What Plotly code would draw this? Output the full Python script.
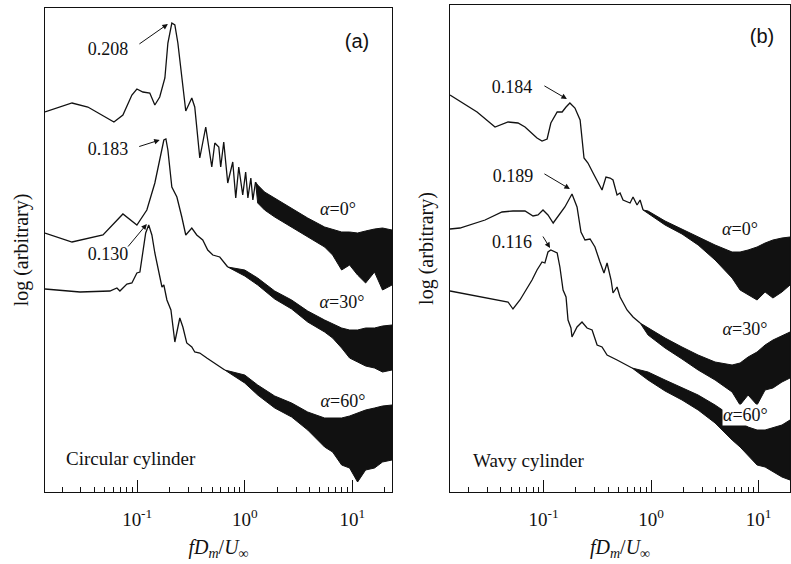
import numpy as np
import plotly.graph_objects as go

W, H = 791, 564

# ---------------- data: panel (a) circular cylinder ----------------
A0_F = [0.0139, 0.0248, 0.0348, 0.0608, 0.0737, 0.0893, 0.0994, 0.113, 0.131, 0.146, 0.162, 0.181,
        0.193, 0.210, 0.224, 0.239, 0.260, 0.283, 0.322, 0.343, 0.382, 0.434, 0.494, 0.527, 0.574,
        0.598, 0.638, 0.695, 0.774, 0.825, 0.880, 0.958, 1.02, 1.07, 1.14, 1.19, 1.26]
A0_Y = [3.80, 3.89, 3.85, 3.70, 3.77, 3.97, 4.03, 4.00, 3.99, 3.87, 3.95, 4.14, 4.49, 4.69, 4.67,
        4.49, 4.15, 3.81, 3.94, 3.85, 3.34, 3.65, 3.25, 3.49, 3.45, 3.25, 3.50, 3.09, 3.30, 2.94,
        3.25, 2.97, 3.20, 2.94, 3.14, 2.92, 3.10]
A0_BF = [1.32, 1.53, 1.90, 2.73, 3.85, 5.53, 6.56, 7.96, 9.44, 11.2, 13.3, 16.1, 19.1, 23.4]
A0_HI = [3.07, 3.00, 2.94, 2.84, 2.74, 2.65, 2.63, 2.60, 2.60, 2.59, 2.61, 2.63, 2.64, 2.62]
A0_LO = [2.89, 2.82, 2.75, 2.65, 2.55, 2.45, 2.37, 2.22, 2.27, 2.17, 2.09, 2.20, 2.02, 2.07]

BAND_A_F = [1.0, 1.32, 1.90, 2.73, 3.85, 5.53, 6.56, 7.96, 9.44, 11.2, 13.3, 16.1, 19.1, 23.4]

A30_F = [0.0139, 0.0248, 0.0481, 0.0737, 0.0994, 0.123, 0.146, 0.162, 0.177, 0.185, 0.193, 0.210,
         0.234, 0.260, 0.283, 0.322, 0.358, 0.407, 0.453, 0.505, 0.586, 0.695]
A30_Y = [2.59, 2.50, 2.57, 2.78, 2.67, 2.82, 3.09, 3.32, 3.52, 3.53, 3.42, 3.05, 2.95, 2.75, 2.57,
         2.64, 2.57, 2.52, 2.42, 2.37, 2.35, 2.25]
A30_HI = [2.22, 2.14, 2.01, 1.92, 1.81, 1.72, 1.68, 1.64, 1.62, 1.62, 1.64, 1.64, 1.66, 1.67]
A30_LO = [2.16, 2.07, 1.93, 1.83, 1.70, 1.60, 1.54, 1.44, 1.34, 1.30, 1.26, 1.24, 1.20, 1.22]

A60_F = [0.0139, 0.0294, 0.0558, 0.0648, 0.0691, 0.0802, 0.0893, 0.0994, 0.106, 0.113, 0.120, 0.128,
         0.137, 0.146, 0.156, 0.170, 0.177, 0.189, 0.206, 0.224, 0.249, 0.266, 0.289, 0.322, 0.343,
         0.382, 0.444, 0.549, 0.652]
A60_Y = [2.03, 2.00, 2.01, 2.04, 2.01, 2.08, 2.09, 2.19, 2.20, 2.39, 2.59, 2.67, 2.57, 2.39, 2.25,
         2.05, 2.07, 1.92, 1.82, 1.50, 1.74, 1.65, 1.49, 1.45, 1.40, 1.39, 1.34, 1.27, 1.22]
A60_HI = [1.17, 1.07, 0.96, 0.89, 0.80, 0.74, 0.74, 0.74, 0.76, 0.79, 0.82, 0.84, 0.86, 0.87]
A60_LO = [1.09, 0.97, 0.84, 0.75, 0.62, 0.45, 0.40, 0.27, 0.24, 0.10, 0.22, 0.24, 0.30, 0.32]

PEAK_LABELS_A = ["0.208", "0.183", "0.130"]
ARROW_A_F = [0.193, 0.162, 0.123]
ARROW_A_Y = [4.68, 3.52, 2.68]

# ---------------- data: panel (b) wavy cylinder ----------------
B0_F = [0.0135, 0.0241, 0.0354, 0.0468, 0.0579, 0.0673, 0.0870, 0.0969, 0.108, 0.117, 0.134, 0.149,
        0.162, 0.176, 0.196, 0.219, 0.238, 0.259, 0.289, 0.350, 0.381, 0.416, 0.443, 0.483, 0.515,
        0.549, 0.638, 0.680, 0.741, 0.791, 0.843]
B0_Y = [3.97, 3.80, 3.65, 3.70, 3.69, 3.65, 3.54, 3.51, 3.53, 3.69, 3.80, 3.80, 3.85, 3.89, 3.84,
        3.72, 3.34, 3.29, 3.19, 3.02, 3.15, 3.14, 3.12, 2.97, 2.99, 2.92, 2.89, 2.95, 2.87, 2.92, 2.82]
BAND_B_F = [0.938, 1.35, 1.94, 2.74, 3.94, 5.67, 6.73, 7.99, 9.68, 11.5, 13.6, 16.5, 19.6]
B0_HI = [2.81, 2.71, 2.63, 2.55, 2.47, 2.40, 2.40, 2.42, 2.45, 2.49, 2.52, 2.54, 2.55]
B0_LO = [2.78, 2.67, 2.58, 2.47, 2.32, 2.14, 2.02, 1.97, 1.92, 2.00, 1.94, 2.00, 2.07]

B30_F = [0.0135, 0.0167, 0.0286, 0.0411, 0.0520, 0.0673, 0.0799, 0.0889, 0.0989, 0.110, 0.123, 0.136,
         0.158, 0.184, 0.205, 0.223, 0.243, 0.271, 0.301, 0.335, 0.365, 0.390, 0.425, 0.443, 0.483,
         0.515, 0.598, 0.680, 0.791]
B30_Y = [2.63, 2.64, 2.72, 2.80, 2.81, 2.81, 2.76, 2.77, 2.82, 2.77, 2.69, 2.75, 2.85, 2.98, 2.85,
         2.60, 2.52, 2.53, 2.45, 2.30, 2.19, 2.29, 2.12, 1.99, 2.05, 1.95, 1.82, 1.75, 1.69]
B30_HI = [1.64, 1.54, 1.45, 1.37, 1.30, 1.27, 1.29, 1.35, 1.40, 1.47, 1.52, 1.56, 1.60]
B30_LO = [1.57, 1.44, 1.33, 1.22, 1.12, 1.00, 0.87, 0.97, 0.87, 1.02, 1.04, 1.10, 1.14]

B60_F = [0.0135, 0.0468, 0.0520, 0.0604, 0.0782, 0.0870, 0.0969, 0.103, 0.110, 0.117, 0.134, 0.142,
         0.152, 0.162, 0.169, 0.180, 0.184, 0.205, 0.228, 0.254, 0.283, 0.315, 0.350, 0.390, 0.483,
         0.666]
B60_Y = [2.01, 1.90, 1.83, 1.92, 2.12, 2.22, 2.30, 2.29, 2.40, 2.42, 2.39, 2.25, 2.02, 1.95, 1.72,
         1.64, 1.55, 1.65, 1.70, 1.64, 1.62, 1.47, 1.45, 1.37, 1.32, 1.24]
B60_HI = [1.20, 1.12, 1.04, 0.97, 0.87, 0.75, 0.70, 0.65, 0.62, 0.62, 0.64, 0.67, 0.72]
B60_LO = [1.12, 1.01, 0.92, 0.82, 0.69, 0.52, 0.45, 0.37, 0.27, 0.25, 0.20, 0.15, 0.12]

PEAK_LABELS_B = ["0.184", "0.189", "0.116"]
ARROW_B_F = [0.165, 0.176, 0.115]
ARROW_B_Y = [3.93, 3.03, 2.44]

ANGLE_LABELS = ["0", "30", "60"]
MAJOR_TICKS = [0.1, 1, 10]
MAJOR_TEXT = ["10<sup>-1</sup>", "10<sup>0</sup>", "10<sup>1</sup>"]
MINOR_TICKS = [m * 10.0 ** e for e in (-2, -1, 0, 1) for m in range(2, 10) if m * 10.0 ** e < 25]

# ---------------- figure ----------------
SERIF = "Liberation Serif"
SANS = "Liberation Sans"
INK = "#111111"
XT = "<i>fD</i><sub><i>m</i></sub>/<i>U</i><sub>∞</sub>"
YT = "log (arbitrary)"

fig = go.Figure()


def add_spectrum(f, y, bf, hi, lo, xa, ya):
    # resolved low-frequency part of the spectrum
    fig.add_trace(go.Scatter(
        x=f, y=y, mode="lines", line=dict(color=INK, width=1.3),
        xaxis=xa, yaxis=ya, hoverinfo="skip"))
    # dense high-frequency part: band between upper and lower envelopes,
    # tapering out of the last resolved point
    bx = [f[-1]] + bf + bf[::-1] + [f[-1]]
    by = [y[-1]] + hi + lo[::-1] + [y[-1]]
    fig.add_trace(go.Scatter(
        x=bx, y=by, mode="lines", fill="toself", fillcolor=INK,
        line=dict(color=INK, width=1.0), xaxis=xa, yaxis=ya, hoverinfo="skip"))


add_spectrum(A0_F, A0_Y, A0_BF, A0_HI, A0_LO, "x", "y")
add_spectrum(A30_F, A30_Y, BAND_A_F, A30_HI, A30_LO, "x", "y")
add_spectrum(A60_F, A60_Y, BAND_A_F, A60_HI, A60_LO, "x", "y")
add_spectrum(B0_F, B0_Y, BAND_B_F, B0_HI, B0_LO, "x2", "y2")
add_spectrum(B30_F, B30_Y, BAND_B_F, B30_HI, B30_LO, "x2", "y2")
add_spectrum(B60_F, B60_Y, BAND_B_F, B60_HI, B60_LO, "x2", "y2")


def xaxis_cfg(dom, rng, anchor):
    return dict(
        type="log", domain=dom, range=[np.log10(rng[0]), np.log10(rng[1])], anchor=anchor,
        showline=True, mirror=True, linecolor=INK, linewidth=1,
        ticks="inside", ticklen=12, tickwidth=1, tickcolor=INK,
        tickmode="array", tickvals=MAJOR_TICKS, ticktext=MAJOR_TEXT,
        tickfont=dict(family=SERIF, size=19, color=INK), ticklabelstandoff=10,
        minor=dict(tickmode="array", tickvals=MINOR_TICKS, ticks="inside", ticklen=5,
                   tickwidth=1, tickcolor=INK, showgrid=False),
        title=dict(text=XT, font=dict(family=SERIF, size=20, color=INK), standoff=11),
        showgrid=False, zeroline=False, automargin=False)


def yaxis_cfg(dom, rng, anchor):
    return dict(domain=dom, range=rng, anchor=anchor, showline=True, mirror=True,
                linecolor=INK, linewidth=1, ticks="", showticklabels=False,
                title=dict(text=YT, font=dict(family=SERIF, size=20, color=INK), standoff=10),
                showgrid=False, zeroline=False, automargin=False)


fig.update_layout(
    width=W, height=H, margin=dict(l=0, r=0, t=0, b=0),
    paper_bgcolor="white", plot_bgcolor="rgba(0,0,0,0)", showlegend=False, template="none",
    xaxis=xaxis_cfg([45 / W, 392 / W], [0.0139, 23.4], "y"),
    yaxis=yaxis_cfg([1 - 492 / H, 1 - 8 / H], [0, 4.84], "x"),
    xaxis2=xaxis_cfg([450 / W, 790 / W], [0.0135, 19.6], "y2"),
    yaxis2=yaxis_cfg([1 - 492 / H, 1 - 5 / H], [0, 4.87], "x2"),
    # full-page overlay frame used only to place the free text labels
    xaxis3=dict(domain=[0, 1], range=[0, W], visible=False, anchor="y3", fixedrange=True),
    yaxis3=dict(domain=[0, 1], range=[H, 0], visible=False, anchor="x3", fixedrange=True),
)

TEXTS = []  # (x, y, text, size, family, position)
for lab, (tx, ty) in zip(PEAK_LABELS_A, [(108, 50), (108, 150), (108, 255)]):
    TEXTS.append((tx, ty, lab, 18, SERIF, "middle center"))
for ang, (tx, ty) in zip(ANGLE_LABELS, [(338, 210), (342, 303), (343, 402)]):
    TEXTS.append((tx, ty, "<i>α</i>=" + ang + "°", 18, SERIF, "middle center"))
TEXTS.append((357, 43, "(a)", 20, SANS, "middle center"))
TEXTS.append((66, 460, "Circular cylinder", 19, SERIF, "middle right"))
for lab, (tx, ty) in zip(PEAK_LABELS_B, [(512, 88), (513, 177), (512, 243)]):
    TEXTS.append((tx, ty, lab, 18, SERIF, "middle center"))
for ang, (tx, ty) in zip(ANGLE_LABELS[:2], [(740, 230), (745, 330)]):
    TEXTS.append((tx, ty, "<i>α</i>=" + ang + "°", 18, SERIF, "middle center"))
TEXTS.append((762, 38, "(b)", 20, SANS, "middle center"))
TEXTS.append((473, 462, "Wavy cylinder", 19, SERIF, "middle right"))

for tx, ty, t, sz, fam, pos in TEXTS:
    fig.add_trace(go.Scatter(
        x=[tx], y=[ty], text=[t], mode="text", textposition=pos,
        textfont=dict(family=fam, size=sz, color=INK),
        xaxis="x3", yaxis="y3", hoverinfo="skip", cliponaxis=False))

ann = []


def arrow(f, y, dx, dy, xr, yr):
    ann.append(dict(x=np.log10(f), y=y, xref=xr, yref=yr, ax=dx, ay=dy, text="",
                    showarrow=True, arrowhead=2, arrowsize=1.1, arrowwidth=1,
                    arrowcolor=INK, standoff=0, startstandoff=0))


for f, y, (dx, dy) in zip(ARROW_A_F, ARROW_A_Y, [(-30, 21), (-22, 7), (-20, 24)]):
    arrow(f, y, dx, dy, "x", "y")
for f, y, (dx, dy) in zip(ARROW_B_F, ARROW_B_Y, [(-24, -14), (-27, -16), (-8, -13)]):
    arrow(f, y, dx, dy, "x2", "y2")

# the alpha = 60 deg label of panel (b) sits on the band and masks it
ann.append(dict(x=745 / W, y=1 - 415 / H, xref="paper", yref="paper",
                text="<i>α</i>=" + ANGLE_LABELS[2] + "°", showarrow=False,
                xanchor="center", yanchor="middle", bgcolor="white", borderpad=0,
                font=dict(family=SERIF, size=18, color=INK)))

fig.update_layout(annotations=ann)
fig.write_html("out.html")
